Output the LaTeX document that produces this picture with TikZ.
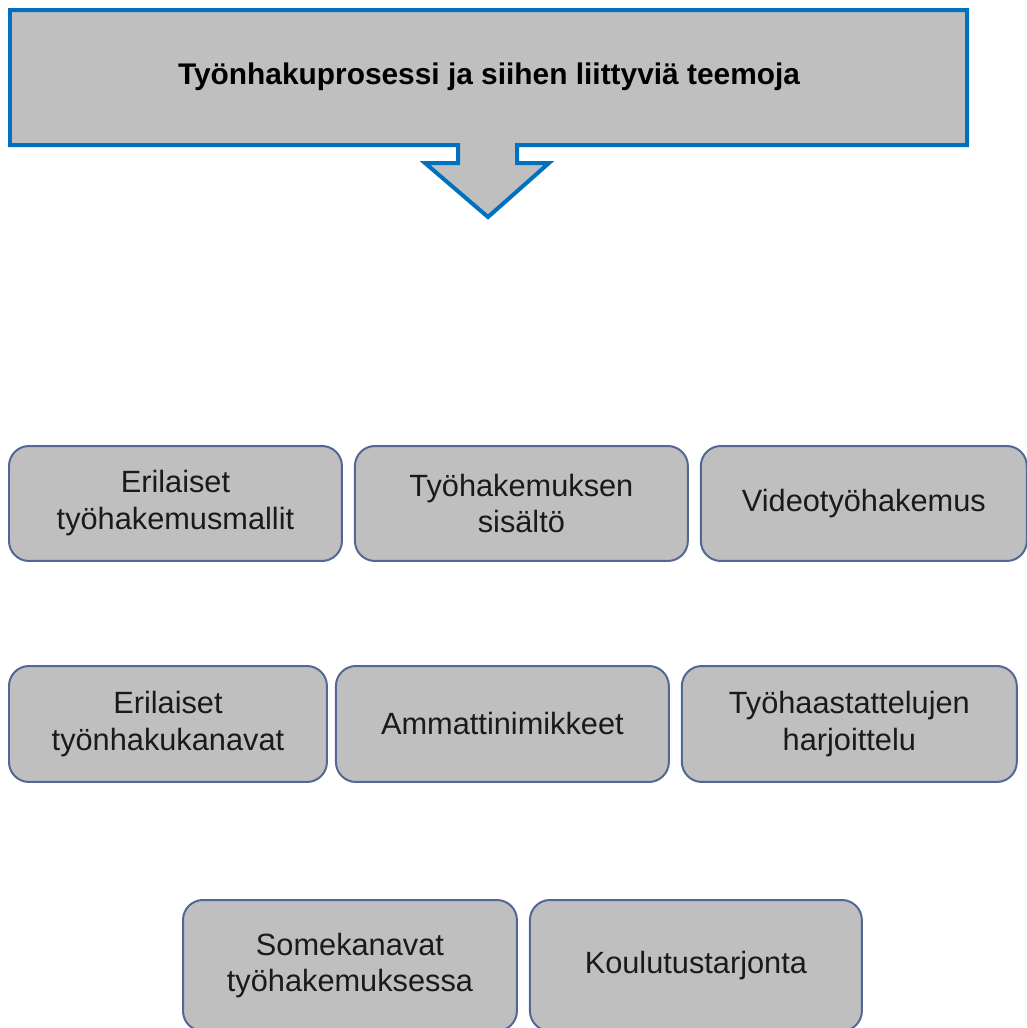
\documentclass[tikz,border=0pt]{standalone}
\usepackage{fontspec}
\setmainfont{Liberation Sans}
\usetikzlibrary{positioning}
\definecolor{teemaBlue}{RGB}{0,112,192}
\definecolor{teemaGray}{RGB}{191,191,191}
\definecolor{teemaEdge}{RGB}{82,104,148}
\definecolor{teemaText}{RGB}{28,24,28}
\tikzset{
    teemat/.style={line join=miter, font=\fontsize{17.5}{21}\selectfont,
                   text=teemaText},
    banner/.style={draw=teemaBlue, line width=0.08cm, fill=teemaGray},
    bannertext/.style={font=\fontsize{17}{20}\selectfont\bfseries,
                       text=black, inner sep=0pt},
    teema/.style={draw=teemaEdge, line width=0.04cm, fill=teemaGray,
                  rounded corners=0.4cm, inner sep=2pt, align=center,
                  minimum width=6.66cm, minimum height=2.3cm},
}

\begin{document}
\begin{tikzpicture}[teemat, x=0.02cm, y=-0.02cm]
\useasboundingbox (0,0) rectangle (1027,1028);
\clip (0,0) rectangle (1027,1028);

% ─── Otsikkonuoli ──────────────────────────────────────────────────────
\draw[banner] (10,10) -- (967,10) -- (967,145) -- (517,145) -- (517,163)
    -- (549,163) -- (488,217) -- (425,163) -- (458,163) -- (458,145)
    -- (10,145) -- cycle;
\node[bannertext] (otsikko) at (489,77)
    {Työnhakuprosessi ja siihen liittyviä teemoja};

% ─── Rivi 1 ────────────────────────────────────────────────────────────
\node[teema, anchor=north west] (mallit) at (8,445)
    {Erilaiset\\työhakemusmallit};
\node[teema, right=0.22cm of mallit] (sisalto)
    {Työhakemuksen\\sisältö};
\node[teema, minimum width=6.52cm, right=0.22cm of sisalto] (video)
    {Videotyöhakemus};

% ─── Rivi 2 ────────────────────────────────────────────────────────────
\node[teema, minimum width=6.36cm, minimum height=2.32cm, anchor=north west]
    (kanavat) at (8,665) {Erilaiset\\työnhakukanavat};
\node[teema, minimum height=2.32cm, right=0.14cm of kanavat] (nimikkeet)
    {Ammattinimikkeet};
\node[teema, minimum width=6.7cm, minimum height=2.32cm,
      right=0.22cm of nimikkeet] (haastattelu)
    {Työhaastattelujen\\harjoittelu};

% ─── Rivi 3 ────────────────────────────────────────────────────────────
\node[teema, minimum width=6.68cm, minimum height=2.62cm, anchor=north west]
    (some) at (182,899) {Somekanavat\\työhakemuksessa};
\node[teema, minimum width=6.64cm, minimum height=2.62cm,
      right=0.22cm of some] (koulutus)
    {Koulutustarjonta};

\end{tikzpicture}
\end{document}
